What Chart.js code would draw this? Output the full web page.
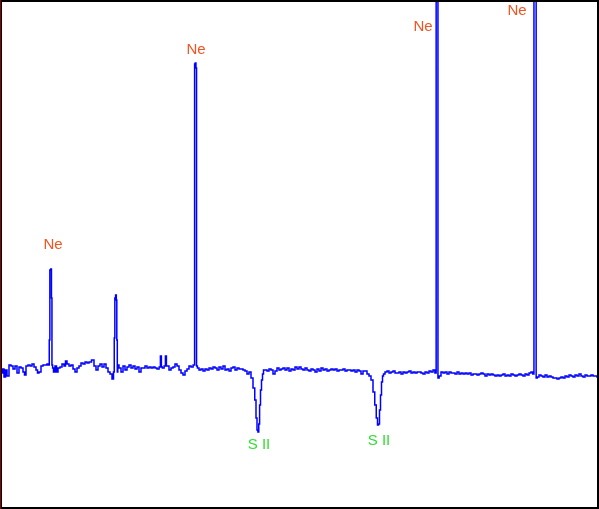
<!DOCTYPE html>
<html>
<head>
<meta charset="utf-8">
<script src="https://cdn.jsdelivr.net/npm/chart.js@4/dist/chart.umd.min.js"></script>
<style>
  html, body { margin: 0; padding: 0; background: #fff; }
  #box { width: 599px; height: 509px; }
</style>
</head>
<body>
<div id="box"><canvas id="spec"></canvas></div>
<script>
// spectrum (channel, relative flux)
var channel = [
  0, 1, 2, 3, 5, 6, 8, 10, 12, 14, 16, 18, 20, 22, 24, 25, 27, 29, 31, 33, 35, 37, 38, 40, 42, 44, 46, 48,
  49, 49.5, 50.2, 51.2, 51.7, 52.2, 53, 54, 56, 57, 59, 61, 63, 65, 66, 68, 70, 72, 74, 76, 78, 80, 82, 84,
  86, 88, 90, 93, 95, 97, 99, 101, 103, 105, 107, 109, 111, 113, 114, 114.5, 115.2, 116, 116.6, 117, 117.6,
  118, 120, 122, 124, 126, 128, 130, 132, 134, 136, 138, 140, 142, 144, 146, 148, 150, 152, 154, 156, 158,
  160.2, 160.6, 161.2, 161.6, 163, 165.2, 165.6, 166.2, 166.6, 168, 170, 172, 174, 176, 178, 180, 182, 184,
  186, 188, 190, 192, 194.2, 195, 195.6, 196.3, 196.8, 198, 200, 202, 204, 206, 208, 210, 212, 214, 216,
  218, 220, 222, 224, 226, 228, 230, 232, 234, 236, 238, 240, 242, 244, 246, 248, 250, 252, 254, 255.5,
  256.5, 257.5, 258.3, 259.2, 260, 261, 262, 263, 264, 266, 268, 270, 272, 274, 276, 278, 280, 282, 284,
  286, 288, 290, 292, 294, 296, 298, 300, 302, 304, 306, 308, 310, 312, 314, 316, 318, 320, 322, 324, 326,
  328, 330, 332, 334, 336, 338, 340, 342, 344, 346, 348, 350, 352, 354, 356, 358, 360, 362, 364, 366, 368,
  370, 372, 374, 375.5, 377, 378, 379, 380, 381, 382, 383, 384, 386, 388, 390, 392, 394, 396, 398, 400,
  402, 404, 406, 408, 410, 412, 414, 416, 418, 420, 422, 424, 426, 428, 430, 432, 434, 435.8, 436.5, 437.6,
  438.3, 440, 442, 444, 446, 448, 450, 452, 454, 456, 458, 460, 462, 464, 466, 468, 470, 472, 474, 476,
  478, 480, 482, 484, 486, 488, 490, 492, 494, 496, 498, 500, 502, 504, 506, 508, 510, 512, 514, 516, 518,
  520, 522, 524, 526, 528, 530, 532, 533.6, 534.3, 535.8, 536.5, 538, 540, 542, 544, 546, 548, 550, 552,
  554, 556, 558, 560, 562, 564, 566, 568, 570, 572, 574, 576, 578, 580, 582, 584, 586, 588, 590, 592, 594,
  596, 598
];
var flux = [
  32, 31, 27, 31, 23, 30, 24, 35, 34, 31, 34, 27, 33, 32, 28, 25, 34, 35, 34, 36, 33, 30, 27, 28, 34, 35, 35, 36,
  35, 60, 130, 131, 102, 35, 32, 28, 34, 28, 32, 33, 36, 34, 39, 36, 34, 35, 31, 28, 32, 34, 37, 36,
  38, 37, 38, 40, 34, 30, 34, 36, 33, 36, 32, 28, 26, 21, 28, 62, 102, 105, 100, 60, 28,
  35, 32, 28, 34, 30, 33, 35, 32, 34, 31, 33, 28, 32, 32, 34, 32, 33, 32, 33, 32, 31,
  33, 44, 44, 33, 32, 34, 44, 44, 34, 34, 30, 32, 33, 36, 34, 30, 27, 25,
  29, 31, 34, 33, 35, 336, 337, 332, 34, 32, 30, 31, 29, 31, 30, 32, 31, 33, 32,
  30, 33, 31, 34, 30, 31, 29, 32, 33, 30, 32, 31, 31, 30, 29, 26, 28, 22, 12, 0,
  -18, -30, -32, -24, -5, 10, 20, 26, 30, 30, 29, 31, 30, 26, 29, 32, 30, 31, 32,
  30, 32, 29, 31, 30, 33, 31, 33, 31, 30, 32, 30, 29, 31, 30, 28, 31, 29, 32, 30, 31,
  29, 30, 31, 30, 31, 29, 30, 30, 31, 29, 30, 30, 29, 30, 28, 30, 29, 26, 29, 29, 26,
  24, 20, 8, -5, -18, -25, -24, -10, 5, 18, 24, 26, 28, 29, 27, 28, 29, 27, 27, 28,
  26, 28, 27, 28, 29, 27, 28, 27, 28, 28, 27, 26, 28, 27, 29, 28, 30, 27, 460, 460,
  22, 24, 28, 27, 28, 26, 28, 27, 27, 26, 28, 26, 27, 26, 27, 26, 27, 25, 26, 26,
  25, 26, 27, 26, 24, 26, 25, 26, 25, 24, 25, 24, 25, 26, 24, 25, 24, 26, 25, 24, 25,
  26, 25, 24, 26, 25, 27, 28, 26, 460, 460, 22, 23, 25, 24, 23, 25, 23, 24, 23,
  22, 22, 21, 22, 23, 22, 24, 23, 25, 24, 23, 25, 24, 26, 24, 23, 25, 24, 24, 25, 24,
  24, 23
];

// line identifications
var lineNames = ['Ne', 'Ne', 'Ne', 'Ne', 'S II', 'S II'];
var lineX = [53, 196, 423, 517, 259, 379];
var lineY = [155, 350, 373, 389, -45, -41];
var lineColors = ['#ee5522', '#ee5522', '#ee5522', '#ee5522', '#33dd33', '#33dd33'];

var points = channel.map(function(x, i){ return {x: x, y: flux[i]}; });

var frameAndLabels = {
  id: 'frameAndLabels',
  beforeDraw: function(chart){
    var c = chart.ctx;
    c.save();
    c.fillStyle = '#fff';
    c.fillRect(0, 0, chart.width, chart.height);
    c.restore();
  },
  afterDraw: function(chart){
    var c = chart.ctx;
    var xs = chart.scales.x, ys = chart.scales.y;
    c.save();
    c.font = '15px "Liberation Sans", Arial, sans-serif';
    c.textAlign = 'center';
    c.textBaseline = 'middle';
    for (var i = 0; i < lineNames.length; i++) {
      c.fillStyle = lineColors[i];
      c.fillText(lineNames[i], xs.getPixelForValue(lineX[i]), ys.getPixelForValue(lineY[i]));
    }
    c.strokeStyle = '#000';
    c.lineWidth = 2;
    c.strokeRect(1, 1, chart.width - 2, chart.height - 2);
    c.strokeStyle = '#8b0000';
    c.lineWidth = 1;
    c.beginPath();
    c.moveTo(0.5, 0);
    c.lineTo(0.5, chart.height);
    c.stroke();
    c.restore();
  }
};

new Chart(document.getElementById('spec'), {
  type: 'line',
  data: {
    datasets: [{
      data: points,
      borderColor: '#0000ff',
      borderWidth: 1.5,
      pointRadius: 0,
      fill: false,
      tension: 0,
      stepped: 'middle'
    }]
  },
  options: {
    responsive: true,
    maintainAspectRatio: false,
    animation: false,
    layout: { padding: 0 },
    plugins: {
      legend: { display: false },
      tooltip: { enabled: false }
    },
    scales: {
      x: { type: 'linear', display: false, min: 0, max: 599 },
      y: { display: false, min: -109, max: 400 }
    }
  },
  plugins: [frameAndLabels]
});
</script>
</body>
</html>
